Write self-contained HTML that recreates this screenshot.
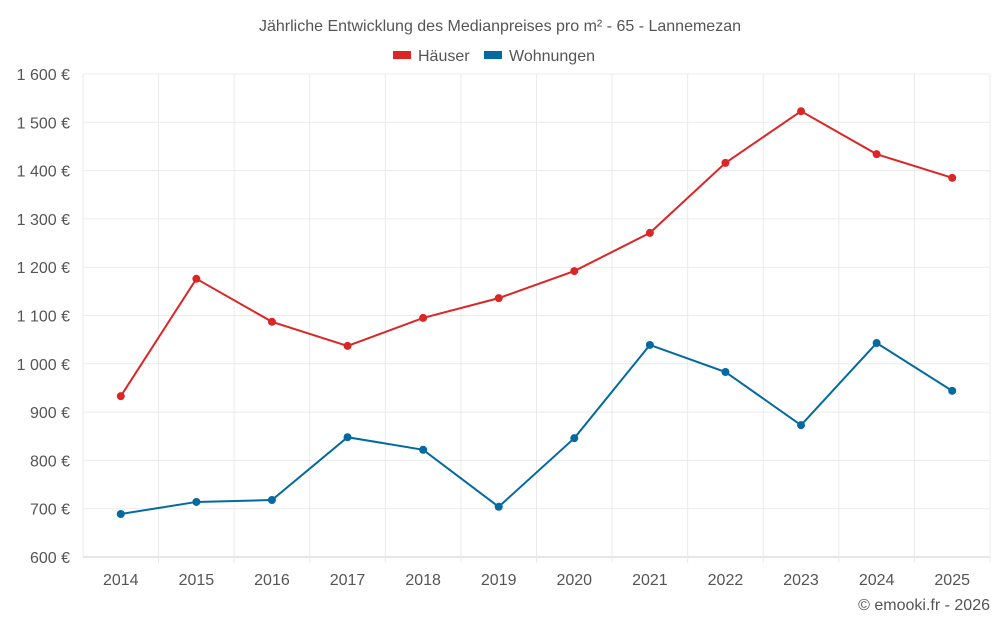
<!DOCTYPE html>
<html><head><meta charset="utf-8"><style>
body{margin:0;background:#fff;font-family:"Liberation Sans",sans-serif;}
svg text{font-family:"Liberation Sans",sans-serif;}
</style></head><body>
<svg id="c" width="1000" height="625">
<text x="500" y="31" text-anchor="middle" font-size="16" fill="#555">Jährliche Entwicklung des Medianpreises pro m² - 65 - Lannemezan</text>
<g>
<g><rect x="393" y="51" width="18" height="8" fill="#dc2626"/><text x="418" y="61" font-size="16" fill="#555">Häuser</text></g>
<g><rect x="484" y="51" width="18" height="8" fill="#0369a1"/><text x="509" y="61" font-size="16" fill="#555">Wohnungen</text></g>
</g>
<g id="grid"></g><g id="axes"></g><g id="series"></g>
<text x="990" y="610" text-anchor="end" font-size="16" fill="#555">© emooki.fr - 2026</text>
</svg>
<script>
const years=[2014,2015,2016,2017,2018,2019,2020,2021,2022,2023,2024,2025];
const haeuser=[933,1176,1087,1037,1095,1136,1192,1271,1416,1523,1434,1385];
const wohnungen=[689,714,718,848,822,704,846,1039,983,873,1043,944];
const yTicks=[600,700,800,900,1000,1100,1200,1300,1400,1500,1600];
const yLabels=["600 €","700 €","800 €","900 €","1 000 €","1 100 €","1 200 €","1 300 €","1 400 €","1 500 €","1 600 €"];
const L=83,R=990,T=74,B=557,NS="http://www.w3.org/2000/svg";
const y=v=>B-(v-600)/1000*(B-T);
const bw=(R-L)/years.length;
const x=i=>L+bw*(i+0.5);
function mk(t,a,p){const e=document.createElementNS(NS,t);for(const k in a)e.setAttribute(k,a[k]);p.appendChild(e);return e;}
const g=document.getElementById('grid'),ax=document.getElementById('axes'),s=document.getElementById('series');
yTicks.forEach((v,i)=>{
 const l=mk('line',{x1:L,x2:R,y1:y(v),y2:y(v),stroke:i==0?'#ccc':'#ebebeb'},g);
 
 
 const t=mk('text',{x:70,y:y(v)+6,'text-anchor':'end','font-size':16,fill:'#555'},ax);
 t.textContent=yLabels[i];
 
 
});
for(let i=0;i<=years.length;i++){
 const l=mk('line',{x1:L+bw*i,x2:L+bw*i,y1:T,y2:B+(i==0?0:6),stroke:'#ebebeb'},g);
 
 
}
years.forEach((yr,i)=>{
 const t=mk('text',{x:x(i),y:585,'text-anchor':'middle','font-size':16,fill:'#555'},ax);
 t.textContent=yr;
 
 
});
function series(d,c,n){
 const p=mk('polyline',{points:d.map((v,i)=>x(i)+','+y(v)).join(' '),fill:'none',stroke:c,'stroke-width':2},s);
 
 
 d.forEach((v,i)=>{
  const ci=mk('circle',{cx:x(i),cy:y(v),r:4,fill:c},s);
  
  
 });
}
series(haeuser,'#dc2626','haeuser');
series(wohnungen,'#0369a1','wohnungen');
</script>
</body></html>
